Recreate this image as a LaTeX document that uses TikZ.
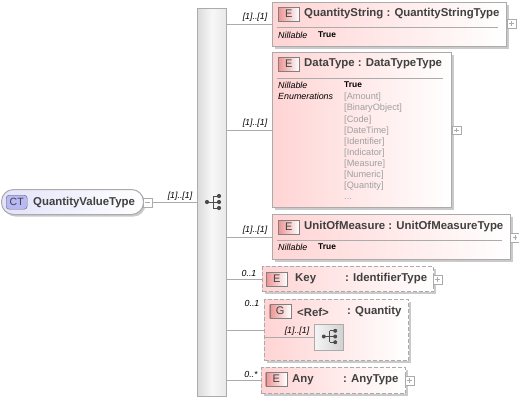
\documentclass[tikz,border=0pt]{standalone}
\usepackage{fontspec}
\setmainfont{Liberation Sans}
\usetikzlibrary{shadows,positioning}
\definecolor{linegray}{HTML}{ABABAB}
\definecolor{boxpink}{HTML}{FFD4D4}
\definecolor{badgered}{HTML}{EE9292}
\definecolor{enumgray}{HTML}{A0A0A0}
\definecolor{ctblue}{HTML}{B8B8F4}
\tikzset{
  elbox/.style={draw=linegray,line width=1pt,left color=boxpink,right color=white,anchor=north west,inner sep=0pt,
    drop shadow={shadow xshift=2pt,shadow yshift=-2pt,fill=black!60,opacity=.35}},
  optbox/.style={elbox,dashed,dash pattern=on 4pt off 2pt},
  badge/.style={draw=black!50,left color=badgered,right color=white,anchor=north west,minimum width=21pt,minimum height=14pt,inner sep=0pt,font=\fontsize{11}{12}\selectfont\color{black!75}},
  title/.style={anchor=west,inner sep=0pt,font=\fontsize{11.4}{13}\selectfont\bfseries\color{black!75}},
  prop/.style={anchor=west,inner sep=0pt,font=\fontsize{8.9}{11.1}\selectfont\itshape},
  propval/.style={anchor=west,inner sep=0pt,font=\fontsize{8.4}{11.1}\selectfont\bfseries},
  card/.style={inner sep=0pt,font=\fontsize{8.8}{10}\selectfont\itshape},
  plusbox/.style={draw=linegray,fill=white,anchor=north west,minimum size=8.5pt,inner sep=0pt,
    path picture={\draw[linegray] ([xshift=2pt]path picture bounding box.west) -- ([xshift=-2pt]path picture bounding box.east)
      ([yshift=2pt]path picture bounding box.south) -- ([yshift=-2pt]path picture bounding box.north);}},
  minusbox/.style={draw=linegray,fill=white,anchor=north west,minimum size=8.5pt,inner sep=0pt,
    path picture={\draw[linegray] ([xshift=2pt]path picture bounding box.west) -- ([xshift=-2pt]path picture bounding box.east);}},
  conn/.style={draw=linegray,line width=.8pt},
  seqicon/.pic={
    \draw[black!70,line width=.8pt] (-6,0) -- (0,0) (0,-6) -- (0,6) (0,-6) -- (6,-6) (0,0) -- (6,0) (0,6) -- (6,6);
    \foreach \p in {(-6,0),(6,-6),(6,0),(6,6)} \fill[black!70] \p circle (2.1);
  }
}
\begin{document}
\begin{tikzpicture}[x=1pt,y=-1pt]
\path[use as bounding box] (0,0) rectangle (519,400);
\node[draw=linegray,line width=1pt,rounded corners=12pt,left color=ctblue!40,right color=white,anchor=north west,minimum width=142pt,minimum height=25pt,inner sep=0pt,drop shadow={shadow xshift=2pt,shadow yshift=-2pt,fill=black!60,opacity=.35}] (ctype) at (1,189) {};
\node[draw=black!60,fill=ctblue,rounded corners=3pt,anchor=north west,minimum width=21pt,minimum height=14pt,inner sep=0pt,font=\fontsize{10.5}{12}\selectfont\color{black!75}] (ctbadge) at (6,195) {CT};
\node[title] (ctname) at (33,202.5) {QuantityValueType};
\node[minusbox] (ctminus) at (143,198) {};
\node[draw=linegray,line width=1pt,left color=black!14,right color=black!9,middle color=black!3,anchor=north west,minimum width=29pt,minimum height=388pt,inner sep=0pt] (bar) at (197,8) {};
\pic at (213,202) {seqicon};
\draw[conn] (ctminus.east) -- (bar.west |- ctminus.east);
\node[card] (cardmain) at (180,196) {[1]..[1]};

\node[elbox,minimum width=234pt,minimum height=44pt] (qstr) at (272,2) {};
\node[badge] (qstrbadge) at (278,7) {E};
\node[title] (qstrname) at (304,14) {QuantityString : QuantityStringType};
\draw[conn] (277,27) -- (498,27);
\node[prop] (qstrprop) at (278,35) {Nillable};
\node[propval] (qstrval) at (318,34.5) {True};
\node[plusbox] (qstrplus) at (507,19) {};
\draw[conn] (bar.east |- qstr.west) -- (qstr.west);
\node[card] (cardqstr) at (255,17) {[1]..[1]};

\node[elbox,minimum width=179pt,minimum height=155pt] (dtype) at (272,52) {};
\node[badge] (dtypebadge) at (278,57) {E};
\node[title] (dtypename) at (304,64) {DataType : DataTypeType};
\draw[conn] (277,78) -- (443,78);
\node[prop,align=left,anchor=north west] (dtypeprop) at (278,82) {Nillable\\Enumerations};
\node[propval] (dtypeval) at (344,84.5) {True};
\node[anchor=north west,inner sep=0pt,align=left,text=enumgray,font=\fontsize{9.2}{11.1}\selectfont] (dtypeenum) at (344,93) {{[Amount]}\\{[BinaryObject]}\\{[Code]}\\{[DateTime]}\\{[Identifier]}\\{[Indicator]}\\{[Measure]}\\{[Numeric]}\\{[Quantity]}\\...};
\node[plusbox] (dtypeplus) at (452,125.5) {};
\draw[conn] (bar.east |- dtype.west) -- (dtype.west);
\node[card] (carddtype) at (255,123) {[1]..[1]};

\node[elbox,minimum width=238pt,minimum height=45pt] (unit) at (272,214) {};
\node[badge] (unitbadge) at (278,220) {E};
\node[title] (unitname) at (304,227) {UnitOfMeasure : UnitOfMeasureType};
\draw[conn] (277,240) -- (502,240);
\node[prop] (unitprop) at (278,247.5) {Nillable};
\node[propval] (unitval) at (318,247) {True};
\node[plusbox] (unitplus) at (510.3,233) {};
\draw[conn] (bar.east |- unit.west) -- (unit.west);
\node[card] (cardunit) at (255,230) {[1]..[1]};

\node[optbox,minimum width=171pt,minimum height=25pt] (key) at (262,266) {};
\node[badge] (keybadge) at (266,272) {E};
\node[title] (keyname) at (295,279) {Key};
\node[title] (keytype) at (345,279) {: IdentifierType};
\node[plusbox] (keyplus) at (433,275) {};
\draw[conn] (bar.east |- key.west) -- (key.west);
\node[card] (cardkey) at (249,273) {0..1};

\node[optbox,minimum width=144pt,minimum height=61pt] (ref) at (264,299) {};
\node[badge] (refbadge) at (269.5,304) {G};
\node[title] (refname) at (297,312) {<Ref>};
\node[title] (reftype) at (347,312) {: Quantity};
\node[draw=linegray,line width=1pt,left color=black!4,right color=black!18,anchor=north west,minimum width=29pt,minimum height=26pt,inner sep=0pt] (refseq) at (314,323.5) {};
\pic[scale=.95] at (329.5,336.5) {seqicon};
\draw[conn] (ref.west |- refseq.west) -- (refseq.west);
\draw[conn] (bar.east |- ref.west) -- (ref.west);
\node[card] (cardseq) at (297,331) {[1]..[1]};
\node[card] (cardref) at (252,303) {0..1};

\node[optbox,minimum width=144pt,minimum height=26pt] (any) at (261,367) {};
\node[badge] (anybadge) at (265.5,372) {E};
\node[title] (anyname) at (292,380) {Any};
\node[title] (anytype) at (343,380) {: AnyType};
\node[plusbox] (anyplus) at (405,376) {};
\draw[conn] (bar.east |- any.west) -- (any.west);
\node[card] (cardany) at (251,374) {0..*};
\end{tikzpicture}
\end{document}
